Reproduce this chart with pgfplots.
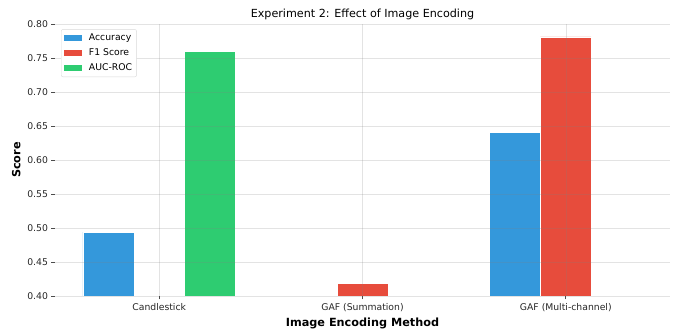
\documentclass[border=0pt]{standalone}
\usepackage{fontspec}
\setmainfont{DejaVu Sans}
\usepackage{pgfplots}
\pgfplotsset{compat=1.18}
\definecolor{cacc}{HTML}{3498DB}
\definecolor{cfone}{HTML}{E74C3C}
\definecolor{cauc}{HTML}{2ECC71}
\begin{document}
\begin{tikzpicture}
\begin{axis}[
  scale only axis, width=615bp, height=272bp,
  xmin=-0.5125, xmax=2.5125, ymin=0.4, ymax=0.8,
  ybar, bar width=0.25,
  xtick={0,1,2},
  xticklabels={Candlestick, GAF (Summation), GAF (Multi-channel)},
  ytick={0.40,0.45,0.50,0.55,0.60,0.65,0.70,0.75,0.80},
  yticklabel style={/pgf/number format/.cd, fixed, fixed zerofill, precision=2},
  /pgf/number format/assume math mode=true,
  ticklabel style={font=\fontsize{9.3}{11}\selectfont, text=black!85},
  axis line style={draw=none},
  tick pos=left, tick align=outside, major tick length=3.5bp,
  tick style={black!70, line width=0.7bp},
  grid=major, major grid style={draw=gray, draw opacity=0.22, line width=0.6bp},
  axis on top,
  title={Experiment 2: Effect of Image Encoding},
  title style={font=\fontsize{11.2}{13}\selectfont, yshift=-5bp},
  xlabel={Image Encoding Method}, ylabel={Score},
  label style={font=\bfseries\fontsize{11.3}{13}\selectfont},
  legend style={at={(0.0098,0.981)}, anchor=north west, draw=black!15, rounded corners=2bp,
    font=\fontsize{9.3}{10.5}\selectfont, row sep=2.8bp, inner sep=2.5bp},
  legend cell align=left,
  legend image code/.code={\fill[#1, draw=none, sharp corners] (0bp,-3.2bp) rectangle (18bp,3.2bp); \path (23bp,0);},
]
\addplot[fill=cacc, draw=white, line width=0.5bp, bar shift=-0.25] coordinates {(0,0.494) (2,0.641)};
\addplot[fill=cfone, draw=white, line width=0.5bp, bar shift=0] coordinates {(1,0.419) (2,0.781)};
\addplot[fill=cauc, draw=white, line width=0.5bp, bar shift=0.25] coordinates {(0,0.760)};
\legend{Accuracy, F1 Score, AUC-ROC}
\end{axis}
\path ([shift={(-55bp,-35bp)}]current axis.south west) rectangle ([shift={(7bp,24bp)}]current axis.north east);
\end{tikzpicture}
\end{document}
